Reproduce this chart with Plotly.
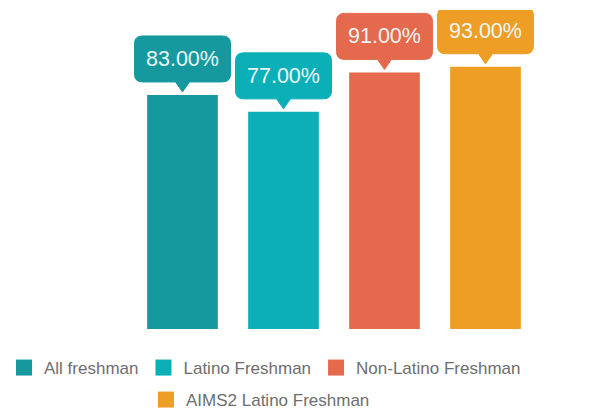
import plotly.graph_objects as go

categories = ["All freshman", "Latino Freshman", "Non-Latino Freshman", "AIMS2 Latino Freshman"]
values = [83, 77, 91, 93]
colors = ["#16999E", "#0AAFB7", "#E5694C", "#EE9E24"]
label_texts = ["83.00%", "77.00%", "91.00%", "93.00%"]

W, H = 590, 413
OFF = 8  # page body margin
ML, MR, MT, MB = 132 - OFF, 54 + OFF, 10 - OFF, 84 + OFF
plot_w = W - ML - MR
plot_h = H - MT - MB
px_per_unit = 2.82
ymax = plot_h / px_per_unit
base_y = H - MB  # figure pixel of y=0

fig = go.Figure()
xs = list(range(len(categories)))
for i, (c, v, col) in enumerate(zip(categories, values, colors)):
    fig.add_trace(go.Bar(x=[xs[i]], y=[v], marker=dict(color=col, line=dict(width=0)),
                         width=0.70, showlegend=False, hoverinfo="skip"))
    fig.add_trace(go.Scatter(x=[None], y=[None], mode="markers", name=c,
                             marker=dict(symbol="square", size=16, color=col),
                             legend="legend" if i < 3 else "legend2"))

# callout boxes (pixel-sized, anchored at bar top)
bw, r = 48, 8
tip, base, top = 3, 13, 59
pw = 7
path = (f"M 0 {tip} L {pw} {base} L {bw - r} {base} Q {bw} {base} {bw} {base + r} "
        f"L {bw} {top - r} Q {bw} {top} {bw - r} {top} L {-bw + r} {top} Q {-bw} {top} {-bw} {top - r} "
        f"L {-bw} {base + r} Q {-bw} {base} {-bw + r} {base} L {-pw} {base} Z")
for i, (v, col, t) in enumerate(zip(values, colors, label_texts)):
    fig.add_shape(type="path", xref="x", yref="y", xsizemode="pixel", ysizemode="pixel",
                  xanchor=xs[i], yanchor=v, path=path, fillcolor=col,
                  line=dict(color=col, width=1), layer="above")
    fig.add_annotation(x=xs[i], y=v, xref="x", yref="y", text=t, showarrow=False,
                       yshift=(base + top) / 2, font=dict(size=21.5, color="#EAF6F6",
                                                         family="Liberation Sans, Arial"))

fig.update_layout(
    width=W, height=H,
    margin=dict(l=ML, r=MR, t=MT, b=MB, autoexpand=False),
    paper_bgcolor="white", plot_bgcolor="white",
    barmode="overlay",
    xaxis=dict(range=[-0.5, 3.5], visible=False, fixedrange=True),
    yaxis=dict(range=[0, ymax], visible=False, fixedrange=True),
    font=dict(family="Liberation Sans, Arial", color="#6E6E6E", size=17),
    legend=dict(orientation="h", x=(-4 - ML) / plot_w, xanchor="left",
                y=(base_y - (368 - OFF)) / plot_h, yanchor="middle",
                font=dict(size=17, color="#6E6E6E"),
                itemsizing="trace", bgcolor="rgba(0,0,0,0)"),
    legend2=dict(orientation="h", x=(146 - OFF - ML) / plot_w, xanchor="left",
                 y=(base_y - (400 - OFF)) / plot_h, yanchor="middle",
                 font=dict(size=17, color="#6E6E6E"),
                 itemsizing="trace", bgcolor="rgba(0,0,0,0)"),
)

fig.write_html("out.html")
